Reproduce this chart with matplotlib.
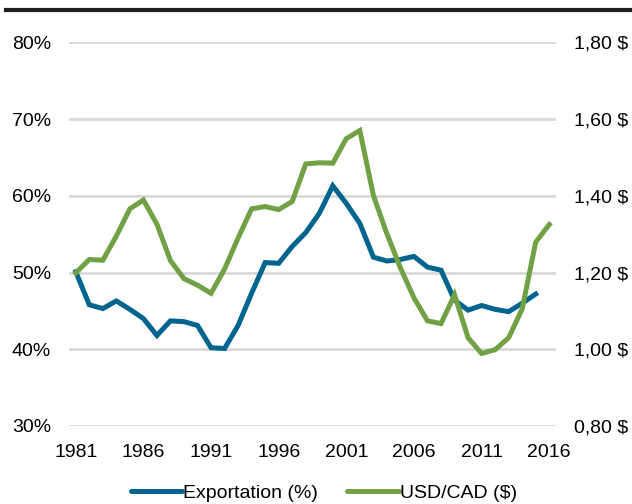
import numpy as np
import matplotlib.pyplot as plt
from matplotlib.lines import Line2D

plt.rcParams['font.family'] = ['Liberation Sans', 'DejaVu Sans']

years_exp = list(range(1981, 2016))
exportation = [50.1, 45.8, 45.3, 46.3, 45.2, 44.0, 41.8, 43.7, 43.6, 43.1,
               40.2, 40.1, 43.1, 47.3, 51.3, 51.2, 53.4, 55.2, 57.7, 61.3,
               59.0, 56.4, 52.0, 51.5, 51.7, 52.1, 50.7, 50.3, 46.4, 45.1,
               45.7, 45.2, 44.9, 46.0, 47.2]

years_fx = list(range(1981, 2017))
usdcad = [1.199, 1.234, 1.232, 1.295, 1.366, 1.389, 1.326, 1.231, 1.184, 1.167,
          1.146, 1.209, 1.290, 1.366, 1.372, 1.364, 1.385, 1.483, 1.486, 1.485,
          1.549, 1.570, 1.401, 1.301, 1.212, 1.134, 1.074, 1.067, 1.142, 1.030,
          0.989, 0.999, 1.030, 1.105, 1.279, 1.325]

xticks = [1981, 1986, 1991, 1996, 2001, 2006, 2011, 2016]
left_ticks = [30, 40, 50, 60, 70, 80]
right_ticks = [0.8, 1.0, 1.2, 1.4, 1.6, 1.8]

blue = '#00648F'
green = '#71A144'
grid_col = '#D9D9D9'

fig = plt.figure(figsize=(6.32, 5.04), dpi=100)
ax = fig.add_axes([69 / 632, 1 - 426 / 504, 487 / 632, (426 - 42.3) / 504])
ax2 = ax.twinx()

for y in left_ticks:
    ax.axhline(y, color=grid_col, lw=2, zorder=0)

ax.plot(years_exp, exportation, color=blue, lw=3.6, solid_joinstyle='miter', zorder=3)
ax2.plot(years_fx, usdcad, color=green, lw=3.6, solid_joinstyle='miter', zorder=3)

ax.set_xlim(1980.5, 2016.5)
ax.set_ylim(30, 80)
ax2.set_ylim(0.8, 1.8)

ax.set_xticks(xticks)
ax.set_xticklabels([str(x) for x in xticks])
ax.set_yticks(left_ticks)
ax.set_yticklabels([f"{v}%" for v in left_ticks])
ax2.set_yticks(right_ticks)
ax2.set_yticklabels([f"{v:.2f} $".replace('.', ',') for v in right_ticks])

for a in (ax, ax2):
    for s in a.spines.values():
        s.set_visible(False)
    a.tick_params(length=0, labelsize=14, colors='black')
ax.tick_params(axis='y', pad=13)
ax.tick_params(axis='x', pad=13)
ax2.tick_params(axis='y', pad=13)

handles = [Line2D([], [], color=blue, lw=3.6, solid_capstyle='round'),
           Line2D([], [], color=green, lw=3.6, solid_capstyle='round')]
fig.legend(handles, ['Exportation (%)', 'USD/CAD ($)'], loc='center',
           bbox_to_anchor=(324 / 632, 1 - 492.7 / 504), ncol=2, frameon=False,
           fontsize=14, handlelength=2.65, handletextpad=0.05, columnspacing=1.5,
           borderpad=0, borderaxespad=0)

# header rule
fig.add_artist(Line2D([6 / 632, 1], [1 - 10.3 / 504, 1 - 10.3 / 504],
                      color='#231F20', lw=3.0, transform=fig.transFigure))

fig.savefig('out.png', dpi=100)
